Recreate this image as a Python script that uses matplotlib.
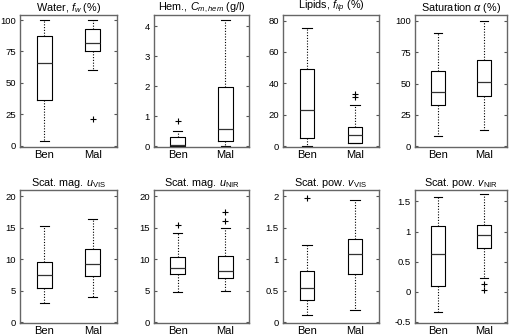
import matplotlib
matplotlib.use("Agg")
import matplotlib.pyplot as plt

plt.rcParams["font.family"] = ["Liberation Sans", "DejaVu Sans"]
plt.rcParams["mathtext.fontset"] = "custom"
plt.rcParams["mathtext.rm"] = "Liberation Sans"
plt.rcParams["mathtext.it"] = "Liberation Sans:italic"

groups = ["Ben", "Mal"]

titles = [
    r"Water, $f_w$ (%)",
    r"Hem., $C_{m,hem}$ (g/l)",
    r"Lipids, $f_{lip}$ (%)",
    r"Saturation $\alpha$ (%)",
    r"Scat. mag. $u_{\mathrm{VIS}}$",
    r"Scat. mag. $u_{\mathrm{NIR}}$",
    r"Scat. pow. $v_{\mathrm{VIS}}$",
    r"Scat. pow. $v_{\mathrm{NIR}}$",
]

# per panel: [whislo, q1, med, q3, whishi] for Ben and Mal
ben_stats = [
    [4, 36, 66, 87, 100],
    [0.0, 0.02, 0.05, 0.30, 0.52],
    [0, 5, 23, 49, 75],
    [8, 33, 43, 60, 90],
    [3.1, 5.4, 7.5, 9.6, 15.3],
    [4.8, 7.6, 8.7, 10.4, 14.2],
    [0.11, 0.35, 0.54, 0.81, 1.23],
    [-0.33, 0.10, 0.62, 1.09, 1.58],
]
mal_stats = [
    [60, 75, 82, 93, 100],
    [0.02, 0.17, 0.57, 1.97, 4.2],
    [2, 2, 7, 12, 26],
    [13, 40, 51, 69, 100],
    [4.1, 7.3, 9.2, 11.7, 16.4],
    [5.0, 7.0, 8.1, 10.6, 15.0],
    [0.20, 0.76, 1.09, 1.33, 1.94],
    [0.22, 0.73, 0.95, 1.11, 1.63],
]
ben_fliers = [[], [0.85], [], [], [], [15.4], [1.97], []]
mal_fliers = [[21], [], [31, 33], [], [], [16.1, 17.5], [], [0.12, 0.03]]

ylims = [(-1, 104), (-0.03, 4.38), (-0.6, 83.6), (-0.5, 104.5),
         (-0.1, 21), (-0.1, 21), (-0.01, 2.1), (-0.52, 1.69)]
yticks = [
    [0, 25, 50, 75, 100],
    [0, 1, 2, 3, 4],
    [0, 20, 40, 60, 80],
    [0, 25, 50, 75, 100],
    [0, 5, 10, 15, 20],
    [0, 5, 10, 15, 20],
    [0, 0.5, 1, 1.5, 2],
    [-0.5, 0, 0.5, 1, 1.5],
]
yticklabels = [
    None, None, None, None, None, None,
    ["0", "0.5", "1", "1.5", "2"],
    ["-0.5", "0", "0.5", "1", "1.5"],
]

W, H = 510, 335
lefts = [20, 154, 283, 415]
widths = [97, 95, 96, 92]
rows = [(15, 147), (190, 323)]

fig = plt.figure(figsize=(W / 100, H / 100), dpi=100)

for i in range(8):
    r, c = divmod(i, 4)
    top, bot = rows[r]
    ax = fig.add_axes([lefts[c] / W, 1 - bot / H, widths[c] / W, (bot - top) / H])
    stats = []
    for s, f in ((ben_stats[i], ben_fliers[i]), (mal_stats[i], mal_fliers[i])):
        stats.append(dict(whislo=s[0], q1=s[1], med=s[2], q3=s[3], whishi=s[4], fliers=f))
    ax.bxp(stats, positions=[1, 2], widths=0.31, capwidths=0.19,
           boxprops=dict(color="black", linewidth=0.8),
           whiskerprops=dict(color="black", linewidth=0.8, linestyle=(0, (1, 1.5))),
           capprops=dict(color="black", linewidth=0.8),
           medianprops=dict(color="#333333", linewidth=0.9),
           flierprops=dict(marker="+", markeredgecolor="black", markersize=4, markeredgewidth=0.8))
    ax.set_xlim(0.5, 2.5)
    ax.set_ylim(*ylims[i])
    ax.set_yticks(yticks[i])
    if yticklabels[i] is not None:
        ax.set_yticklabels(yticklabels[i])
    ax.set_xticks([1, 2])
    ax.set_xticklabels(groups, fontsize=8)
    ax.tick_params(axis="x", length=0, pad=2)
    ax.tick_params(axis="y", direction="in", length=2.5, right=True, labelsize=6.8, pad=3, color="#555555")
    for sp in ax.spines.values():
        sp.set_color("#666666")
        sp.set_linewidth(1.0)
    ax.set_title(titles[i], fontsize=7.8, pad=0.5)

fig.savefig("out.png", dpi=100)
